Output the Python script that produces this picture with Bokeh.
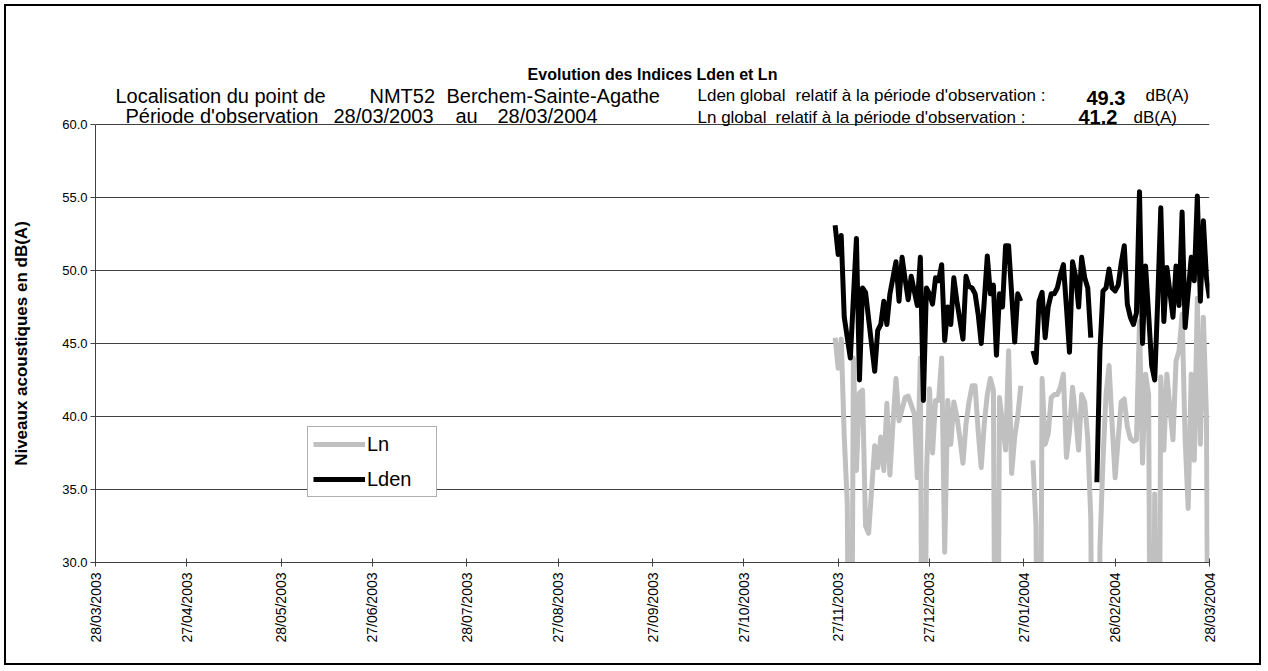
import math
import numpy as np
import pandas as pd
from bokeh.plotting import figure
from bokeh.layouts import column
from bokeh.models import (Label, Legend, LegendItem, FixedTicker, ColumnDataSource,
                          Range1d, PrintfTickFormatter)
from bokeh.embed import file_html
from bokeh.resources import INLINE

NaN = float("nan")

# ---------------- data ----------------
origin_date = "28/03/2003"
first_day = "26/11/2003"
tick_labels = ["28/03/2003", "27/04/2003", "28/05/2003", "27/06/2003", "28/07/2003",
               "27/08/2003", "27/09/2003", "27/10/2003", "27/11/2003", "27/12/2003",
               "27/01/2004", "26/02/2004", "28/03/2004"]
y_ticks = [30, 35, 40, 45, 50, 55, 60]

lden = [53.1, 51.1, 52.4, 46.8, 45.4, 44.0, 48.1, 52.2, 42.5, 48.8,
        48.5, 46.7, 44.9, 43.1, 45.9, 46.3, 47.9, 46.3, 48.4, 49.5,
        50.6, 47.9, 50.9, 49.4, 48.0, 49.6, 48.6, 47.6, 50.9, 41.1,
        48.8, 48.4, 47.7, 49.5, 49.3, 50.4, 45.2, 47.5, 46.3, 49.5,
        47.9, 46.6, 45.3, 49.6, 48.9, 48.8, 48.4, 47.0, 45.0, 47.9,
        51.0, 48.4, 49.0, 44.2, 48.4, 47.5, 51.7, 51.7, 48.4, 45.1,
        48.4, 47.9, NaN, NaN, NaN, 44.5, 43.7, 47.9, 48.5, 45.4,
        47.5, 48.4, 48.4, 48.8, 49.7, 50.4, 47.5, 44.4, 50.6, 49.6,
        47.5, 50.9, 49.5, 48.8, 45.4, NaN, 35.5, 44.5, 48.6, 48.8,
        50.1, 48.8, 48.6, 49.0, 50.5, 51.7, 47.7, 46.8, 46.3, 47.1,
        55.4, 45.0, 50.3, 47.0, 43.5, 42.5, 48.0, 54.3, 46.5, 50.2,
        48.5, 46.8, 50.3, 47.6, 54.0, 46.1, 48.5, 50.9, 49.3, 55.1,
        47.9, 53.4, 49.5, 48.1]

ln = [45.4, 43.3, 45.3, 38.6, 34.0, 0.0, 44.0, 36.3, 41.6, 41.8,
      32.5, 32.0, 35.0, 38.0, 36.5, 38.6, 36.3, 40.9, 36.0, 39.5,
      42.6, 39.7, 40.5, 41.3, 41.4, 40.8, 40.2, 35.8, 44.0, 0.0,
      36.0, 41.9, 37.5, 41.1, 41.1, 44.0, 30.7, 41.1, 38.1, 41.0,
      40.0, 38.5, 36.8, 39.5, 41.0, 42.1, 42.1, 39.0, 36.5, 39.5,
      41.5, 42.6, 41.8, 0.0, 41.3, 39.5, 37.7, 44.5, 36.1, 38.6,
      40.0, 42.1, NaN, NaN, NaN, 37.0, 32.5, 0.0, 42.6, 38.1,
      38.8, 41.3, 41.5, 41.5, 42.0, 42.9, 37.2, 39.0, 42.0, 40.0,
      37.7, 41.5, 41.0, 38.5, 33.0, 0.0, 0.0, 31.0, 37.0, 41.5,
      43.5, 39.5, 35.8, 38.5, 41.0, 41.2, 39.3, 38.5, 38.3, 38.4,
      46.5, 36.8, 42.9, 41.5, 0.0, 34.7, 0.0, 42.7, 37.7, 42.9,
      40.5, 38.4, 43.8, 44.5, 47.0, 38.4, 33.7, 42.9, 37.0, 48.1,
      38.1, 46.8, 40.0, 0.0]

lden_global = "49.3"
ln_global = "41.2"

# ---------------- derived positions ----------------
origin = pd.to_datetime(origin_date, format="%d/%m/%Y")
days = pd.date_range(pd.to_datetime(first_day, format="%d/%m/%Y"), periods=len(lden), freq="D")
xday = np.asarray((days - origin).days, dtype=float)
tick_pos = [int((pd.to_datetime(t, format="%d/%m/%Y") - origin).days) for t in tick_labels]

src = ColumnDataSource(dict(x=xday, lden=np.array(lden, dtype=float), ln=np.array(ln, dtype=float)))

FONT = "Liberation Sans"
OX, OY = 6, 6                          # page position of the figure canvas
W, H = 1253, 657
FL, FR, FT, FB = 95, 1209, 6, 562      # frame edges in page pixels (frame reaches the top)
Y0, Y1, YTOP_PX = 30.0, 60.0, 124      # value axis 30..60, 60 drawn at page y=124
ppu = (FB - YTOP_PX) / (Y1 - Y0)
y_end = Y1 + (YTOP_PX - FT) / ppu      # headroom above the chart area for the header texts

p = figure(width=W, height=H, output_backend="svg", toolbar_location=None,
           x_range=Range1d(0, tick_pos[-1]), y_range=Range1d(Y0, y_end),
           min_border_left=FL - OX, min_border_right=OX + W - FR, min_border_top=FT - OY,
           min_border_bottom=OY + H - FB)
p.outline_line_color = None
p.background_fill_color = "white"
p.border_fill_color = "white"

# axes
p.xaxis.ticker = FixedTicker(ticks=tick_pos)
p.xaxis.major_label_overrides = {t: l for t, l in zip(tick_pos, tick_labels)}
p.xaxis.major_label_orientation = math.pi / 2
p.xaxis.minor_tick_line_color = None
p.xaxis.major_tick_in = 4
p.xaxis.major_tick_out = 4
p.xaxis.major_label_standoff = 6
p.xaxis.major_label_text_font = FONT
p.xaxis.major_label_text_font_size = "14px"
p.xaxis.major_label_text_color = "black"
p.xaxis.axis_line_color = "#404040"
p.xaxis.major_tick_line_color = "#404040"

p.yaxis.ticker = FixedTicker(ticks=y_ticks)
p.yaxis.bounds = (Y0, Y1)
p.yaxis.formatter = PrintfTickFormatter(format="%.1f")
p.yaxis.minor_tick_line_color = None
p.yaxis.major_tick_in = 0
p.yaxis.major_tick_out = 5
p.yaxis.major_label_standoff = 3
p.yaxis.major_label_text_font = FONT
p.yaxis.major_label_text_font_size = "13px"
p.yaxis.major_label_text_color = "black"
p.yaxis.axis_line_color = "#404040"
p.yaxis.major_tick_line_color = "#404040"
# trailing no-break spaces shift the visible title down to the centre of the 30..60 span
p.yaxis.axis_label = "Niveaux acoustiques en dB(A)" + "\u00a0" * 25
p.yaxis.axis_label_text_font = FONT
p.yaxis.axis_label_text_font_size = "17px"
p.yaxis.axis_label_text_font_style = "bold"
p.yaxis.axis_label_text_color = "black"
p.yaxis.axis_label_standoff = 28

p.xgrid.grid_line_color = None
p.ygrid.ticker = FixedTicker(ticks=y_ticks)
p.ygrid.grid_line_color = "#404040"
p.ygrid.grid_line_width = 1

r_ln = p.line("x", "ln", source=src, line_color="#c0c0c0", line_width=5, line_join="round")
r_lden = p.line("x", "lden", source=src, line_color="black", line_width=5, line_join="round")

legend = Legend(items=[LegendItem(label="Ln", renderers=[r_ln]),
                       LegendItem(label="Lden", renderers=[r_lden])],
                location=(307 - FL, FB - 497))
legend.label_text_font = FONT
legend.label_text_font_size = "20px"
legend.label_text_color = "black"
legend.glyph_width = 52
legend.glyph_height = 24
legend.label_height = 24
legend.label_width = 64
legend.label_standoff = 2
legend.padding = 5
legend.spacing = 11
legend.margin = 0
legend.border_line_color = "#606060"
legend.border_line_width = 1
legend.background_fill_color = "white"
legend.background_fill_alpha = 1
p.add_layout(legend)


def lab(text, px, py, size, bold=False, align="left"):
    # screen units are measured from the frame's bottom-left corner
    p.add_layout(Label(x=px - FL, y=FB - py, x_units="screen", y_units="screen",
                       text=text, text_font=FONT, text_font_size=size,
                       text_font_style="bold" if bold else "normal",
                       text_align=align, text_baseline="middle", text_color="black"))


lab("Evolution des Indices Lden et Ln", 652, 74, "16px", bold=True, align="center")
lab("Localisation du point de", 115, 95, "20px")
lab("NMT52", 369, 95, "20px")
lab("Berchem-Sainte-Agathe", 446, 95, "20px")
lab("Période d'observation", 125, 115, "20px")
lab("28/03/2003", 333, 115, "20px")
lab("au", 455, 115, "20px")
lab("28/03/2004", 497, 115, "20px")
lab("Lden global", 697, 95, "17px")
lab("relatif à la période d'observation :", 795, 95, "17px")
lab(lden_global, 1086, 97, "20px", bold=True)
lab("dB(A)", 1145, 95, "17px")
lab("Ln global", 697, 117, "17px")
lab("relatif à la période d'observation :", 775, 117, "17px")
lab(ln_global, 1078, 116, "20px", bold=True)
lab("dB(A)", 1133, 117, "17px")

page = column(p, styles={"border": "2px solid black", "margin": "4px 0 0 4px"})

open("out.html", "w").write(file_html(page, INLINE))
